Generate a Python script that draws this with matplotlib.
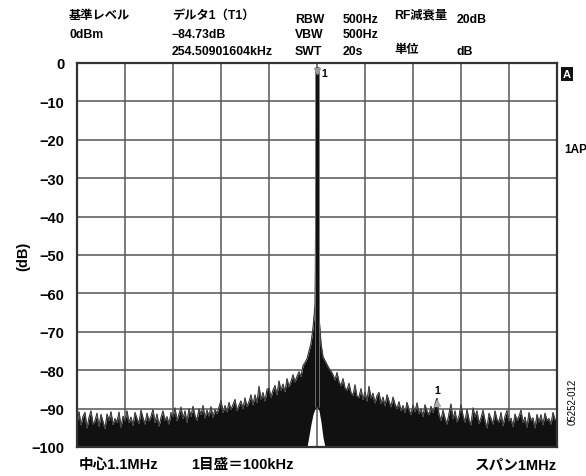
import numpy as np
import matplotlib
matplotlib.use("Agg")
import matplotlib.pyplot as plt

plt.rcParams['font.family'] = ['Liberation Sans', 'Noto Sans CJK JP', 'DejaVu Sans']
plt.rcParams['font.weight'] = 'bold'

# ---- data -------------------------------------------------------------
# sweep: centre 1.1 MHz, span 1 MHz (offset from centre in kHz)
center_mhz = 1.1
span_khz = 1000.0
n_points = 241
freq_khz = np.linspace(-span_khz / 2, span_khz / 2, n_points)

# max-hold envelope of the trace (dB)
trace_max = [
    -93.5, -90.8, -94.2, -92.0, -91.0, -95.0, -92.3, -90.6, -94.0, -93.1,
    -91.2, -94.6, -91.5, -93.4, -95.2, -91.4, -93.0, -90.8, -94.1, -92.6,
    -93.5, -90.9, -94.8, -92.0,
    -93.0, -90.6, -93.6, -92.2, -94.3, -91.0, -92.6, -93.8, -90.4, -92.4,
    -94.0, -91.2, -93.2, -92.0, -90.2, -93.6, -91.4, -94.5, -92.3, -90.6,
    -93.0, -92.1, -94.0, -91.0,
    -92.0, -89.8, -93.1, -91.4, -89.6, -92.6, -90.6, -93.5, -90.0, -92.0,
    -89.4, -91.8, -93.0, -90.0, -91.5, -89.2, -92.4, -90.4, -91.9, -89.5,
    -92.2, -90.2, -91.3, -89.6,
    -87.8, -91.0, -89.2, -90.8, -88.4, -90.2, -89.0, -87.6, -90.5, -89.1,
    -88.0, -90.0, -87.2, -89.4, -88.2, -86.4, -89.0, -86.4, -88.4, -84.2,
    -87.5, -85.8, -88.0, -85.0,
    -84.6, -87.0, -85.2, -84.0, -86.4, -82.8, -85.2, -83.6, -85.6, -82.2,
    -84.2, -82.9, -81.2, -83.0, -81.6, -80.4, -81.6, -78.8,
    -78.0, -77.0, -75.0, -73.0, -69.0, -63.0,
    -1.0,
    -66.0, -73.0, -76.5, -77.5, -78.5, -79.5,
    -80.2, -81.2, -82.5, -80.6, -83.0, -84.0, -82.2, -84.6, -85.2, -83.4,
    -85.8, -86.5, -83.8, -86.8,
    -87.0, -84.8, -87.6, -85.6, -88.0, -84.2, -87.2, -86.0, -88.5, -86.6,
    -85.8, -88.6, -87.0, -89.2, -86.4, -88.0, -89.5, -87.0, -88.8, -90.0,
    -88.2, -90.5, -89.2, -91.0, -88.4, -90.2, -91.5, -89.0, -90.8, -88.5,
    -91.2, -90.0, -92.0, -89.0, -90.6, -91.6, -89.4, -91.0, -88.8, -87.3,
    -91.5, -93.0, -90.4, -92.4, -94.0, -91.2, -88.8, -92.6, -90.6, -93.4,
    -92.0, -88.9, -91.8, -93.5, -90.2, -92.8, -94.2, -89.8, -92.0, -90.6,
    -93.8, -92.4, -90.4, -93.0, -95.0, -91.2, -92.6, -94.0, -90.6, -92.8,
    -93.5, -91.0, -94.4, -92.0, -90.5, -93.2, -92.5, -94.6, -91.4, -93.0,
    -92.0, -90.4, -93.6, -92.2, -94.8, -91.0, -93.0, -92.4, -95.0, -91.5,
    -93.4, -91.6, -94.2, -91.2, -93.0, -92.6, -94.0, -91.0, -92.8, -93.2,
]

# min envelope: bottom of the display except under the carrier skirt
trace_min = [-100.0] * 116 + [-97.0, -94.0, -91.5, -90.0, -89.5, -90.5, -93.5, -97.5] + [-100.0] * 117

carrier_idx = 120

# markers (offset kHz, level dB)
marker1_khz, marker1_db = 0.0, -2.0
marker2_khz, marker2_db = 250.0, -88.5

y_ticks = [0, -10, -20, -30, -40, -50, -60, -70, -80, -90, -100]

# ---- figure -----------------------------------------------------------
W, H = 586, 477
fig = plt.figure(figsize=(W / 100, H / 100), dpi=100)
ax = fig.add_axes([77 / W, 1 - 448 / H, 480 / W, 384 / H])

ax.set_xlim(-span_khz / 2, span_khz / 2)
ax.set_ylim(-100, 0)
ax.set_xticks(np.arange(-500, 501, 100))
ax.set_yticks(y_ticks)
ax.set_xticklabels([])
ax.set_yticklabels([str(t).replace('-', '\u2212') for t in y_ticks])
ax.tick_params(axis='both', length=0, pad=9, labelsize=10.5)
ax.grid(True, color='#555555', lw=1.1, zorder=0)
ax.set_axisbelow(True)
for s in ax.spines.values():
    s.set_color('#333333')
    s.set_linewidth(1.6)
    s.set_zorder(5)

ax.fill_between(freq_khz, trace_min, trace_max, color='#111111', lw=0, zorder=2)
ax.plot(freq_khz, trace_max, color='#808080', lw=0.9, zorder=3)
ax.plot(freq_khz, trace_max, color='#111111', lw=0.4, zorder=3)
# carrier drawn as a solid min-to-max column
ax.vlines(freq_khz[carrier_idx], trace_min[carrier_idx], trace_max[carrier_idx],
          color='#8a8a8a', lw=3.4, zorder=3)
ax.vlines(freq_khz[carrier_idx], trace_min[carrier_idx], trace_max[carrier_idx],
          color='#111111', lw=2.4, zorder=3)

ax.set_ylabel('(dB)', fontsize=10.5, labelpad=1, fontweight='bold')

# markers
ax.plot([marker1_khz], [marker1_db], marker='v', color='#999999', ms=5, zorder=6, clip_on=False)
ax.text(marker1_khz + 10, marker1_db - 0.6, '1', fontsize=7.5, ha='left', va='center', zorder=6)
ax.plot([marker2_khz], [marker2_db], marker='^', color='#aaaaaa', ms=4, zorder=6)
ax.text(marker2_khz, marker2_db + 3.4, '1', fontsize=7.5, ha='center', va='center', zorder=6)

# header
def t(x, y, s, **kw):
    fig.text(x / W, 1 - y / H, s, fontsize=8.8, va='center', ha='left', **kw)

t(69, 16, '基準レベル')
t(69, 35, '0dBm')
t(172, 16, 'デルタ1（T1）')
t(172, 35, '\u221284.73dB')
t(172, 52, '254.50901604kHz')
t(295, 20, 'RBW')
t(295, 35, 'VBW')
t(295, 52, 'SWT')
t(343, 20, '500Hz')
t(343, 35, '500Hz')
t(343, 52, '20s')
t(394, 16, 'RF減衰量')
t(394, 50, '単位')
t(457, 20, '20dB')
t(457, 52, 'dB')

# footer
fig.text(79 / W, 1 - 465 / H, '中心1.1MHz', fontsize=10.5, va='center', ha='left')
fig.text(242 / W, 1 - 465 / H, '1目盛＝100kHz', fontsize=10.5, va='center', ha='center')
fig.text(557 / W, 1 - 465 / H, 'スパン1MHz', fontsize=10.5, va='center', ha='right')

# right side annotations
fig.text(567 / W, 1 - 75 / H, 'A', fontsize=8, va='center', ha='center', color='white',
         bbox=dict(boxstyle='square,pad=0.2', fc='#111111', ec='none'))
fig.text(564 / W, 1 - 150 / H, '1AP', fontsize=8.5, va='center', ha='left')
fig.text(573 / W, 1 - 402 / H, '05252-012', fontsize=7, va='center', ha='center', rotation=90,
         fontweight='normal')

fig.savefig('out.png', dpi=100)
